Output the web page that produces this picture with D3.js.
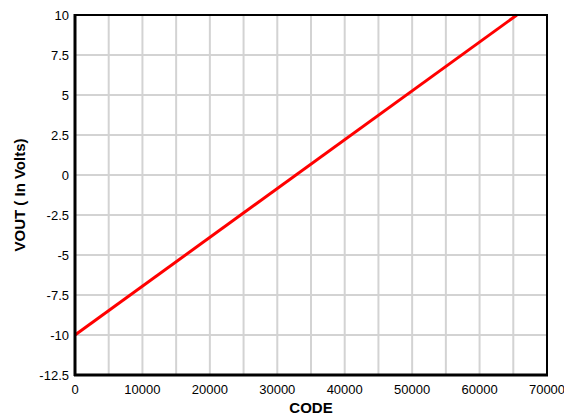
<!DOCTYPE html>
<html><head><meta charset="utf-8">
<script src="https://cdn.jsdelivr.net/npm/d3@7"></script>
<style>body{margin:0;background:#fff}text{font-family:"Liberation Sans",Arial,sans-serif}</style>
</head><body><svg id="c" width="564" height="417"></svg>
<script>
const codes = [0, 65535];
const vout = [-10, 10];
const xTicks = [0,5000,10000,15000,20000,25000,30000,35000,40000,45000,50000,55000,60000,65000,70000];
const xLabels = [0,10000,20000,30000,40000,50000,60000,70000];
const yTicks = [-12.5,-10,-7.5,-5,-2.5,0,2.5,5,7.5,10];

const svg = d3.select("#c");
const m = {l:75, t:15, r:547, b:375};
const x = d3.scaleLinear().domain([0,70000]).range([m.l,m.r]);
const y = d3.scaleLinear().domain([-12.5,10]).range([m.b,m.t]);

// grid
svg.append("g").selectAll("line").data(xTicks.slice(1,-1)).join("line")
  .attr("x1",d=>x(d)).attr("x2",d=>x(d)).attr("y1",m.t).attr("y2",m.b)
  .attr("stroke","#d3d3d3").attr("stroke-width",2);
svg.append("g").selectAll("line").data(yTicks.slice(1,-1)).join("line")
  .attr("y1",d=>y(d)).attr("y2",d=>y(d)).attr("x1",m.l).attr("x2",m.r)
  .attr("stroke","#d3d3d3").attr("stroke-width",2);

// line
const pts = codes.map((c,i)=>[c,vout[i]]);
svg.append("path").datum(pts)
  .attr("d", d3.line().x(d=>x(d[0])).y(d=>y(d[1])))
  .attr("fill","none").attr("stroke","#ff0000").attr("stroke-width",3);

// frame
svg.append("rect").attr("x",m.l).attr("y",m.t).attr("width",m.r-m.l).attr("height",m.b-m.t)
  .attr("fill","none").attr("stroke","#000").attr("stroke-width",2);
svg.append("line").attr("x1",m.l).attr("x2",m.l).attr("y1",m.t-1).attr("y2",m.b+1).attr("stroke","#000").attr("stroke-width",3);
svg.append("line").attr("x1",m.l-1).attr("x2",m.r+1).attr("y1",m.b).attr("y2",m.b).attr("stroke","#000").attr("stroke-width",3);

// tick labels
svg.append("g").selectAll("text").data(yTicks).join("text")
  .attr("x",m.l-6).attr("y",d=>y(d)).attr("dy","0.35em").attr("text-anchor","end")
  .attr("font-size",13).text(d=>d);
svg.append("g").selectAll("text").data(xLabels).join("text")
  .attr("x",d=>x(d)).attr("y",m.b+19).attr("text-anchor","middle")
  .attr("font-size",13).text(d=>d);

// axis titles
svg.append("text").attr("x",(m.l+m.r)/2).attr("y",413).attr("text-anchor","middle")
  .attr("font-size",15).attr("font-weight","bold").text("CODE");
svg.append("text").attr("transform",`translate(25,${(m.t+m.b)/2}) rotate(-90)`)
  .attr("text-anchor","middle").attr("font-size",15).attr("font-weight","bold").text("VOUT ( In Volts)");
</script></body></html>
